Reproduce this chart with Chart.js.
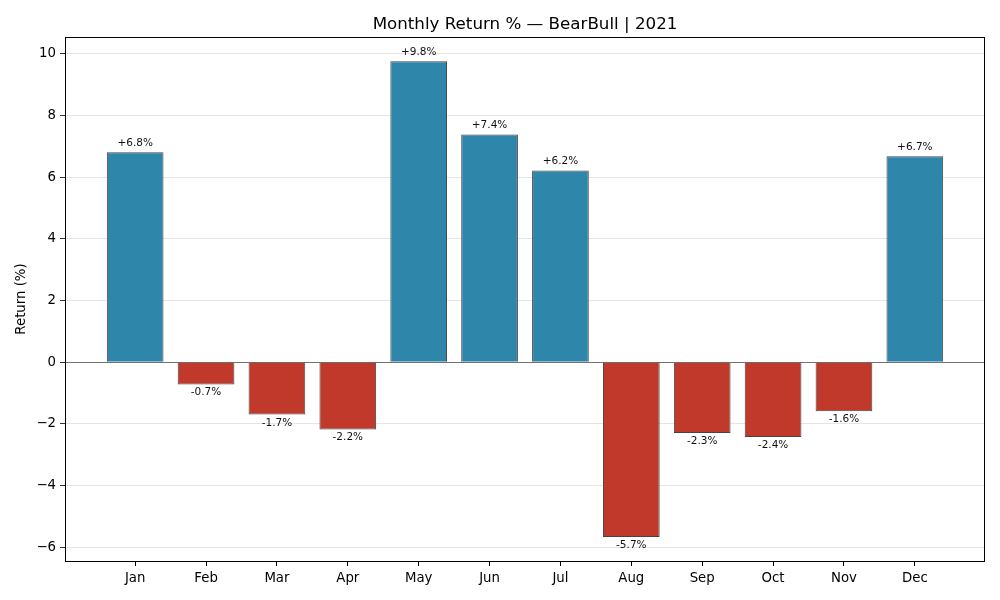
<!DOCTYPE html>
<html>
<head>
<meta charset="utf-8">
<title>Monthly Return % — BearBull | 2021</title>
<script src="https://cdn.jsdelivr.net/npm/chart.js@4.4.1/dist/chart.umd.min.js"></script>
<style>
    html, body { margin: 0; padding: 0; background: #fff; }
    #wrap { width: 1000px; height: 600px; position: relative; }
</style>
</head>
<body>
<div id="wrap"><canvas id="returnsChart" width="1000" height="600"></canvas></div>
<script>
(function () {
    'use strict';

    // Monthly data
    var months  = ['Jan', 'Feb', 'Mar', 'Apr', 'May', 'Jun', 'Jul', 'Aug', 'Sep', 'Oct', 'Nov', 'Dec'];
    var returns = [6.81, -0.72, -1.70, -2.18, 9.76, 7.39, 6.22, -5.67, -2.30, -2.43, -1.59, 6.68];
    var yTicks  = [-6, -4, -2, 0, 2, 4, 6, 8, 10];

    var titleText  = 'Monthly Return % \u2014 BearBull | 2021';
    var yLabelText = 'Return (%)';

    var posColour  = '#2E86AB';
    var negColour  = '#C0392B';
    var edgeColour = '#444';
    var gridColour = 'rgba(200,200,200,0.6)';
    var font       = 'DejaVu Sans';

    var points = months.map(function (m, i) { return { x: i, y: returns[i] }; });

    // Frame, zero line, value labels, title and y label
    var extras = {
        id: 'extras',
        afterDatasetsDraw: function (chart) {
            var ctx  = chart.ctx;
            var area = chart.chartArea;
            var ys   = chart.scales.y;

            ctx.save();
            // zero line
            ctx.strokeStyle = '#555';
            ctx.lineWidth = 0.8;
            ctx.beginPath();
            ctx.moveTo(area.left, Math.round(ys.getPixelForValue(0)) + 0.5);
            ctx.lineTo(area.right, Math.round(ys.getPixelForValue(0)) + 0.5);
            ctx.stroke();

            // value labels
            ctx.fillStyle = '#111';
            ctx.font = '10.5px "' + font + '"';
            ctx.textAlign = 'center';
            chart.getDatasetMeta(0).data.forEach(function (bar, i) {
                var v = returns[i];
                var txt = (v >= 0 ? '+' : '-') + Math.abs(v).toFixed(1) + '%';
                if (v >= 0) {
                    ctx.textBaseline = 'bottom';
                    ctx.fillText(txt, bar.x, bar.y - 4);
                } else {
                    ctx.textBaseline = 'top';
                    ctx.fillText(txt, bar.x, bar.y + 3);
                }
            });
            ctx.restore();
        },
        afterDraw: function (chart) {
            var ctx  = chart.ctx;
            var area = chart.chartArea;
            ctx.save();
            // axes box
            ctx.strokeStyle = '#000';
            ctx.lineWidth = 1;
            ctx.strokeRect(Math.round(area.left) + 0.5, Math.round(area.top) + 0.5,
                Math.round(area.right - area.left) - 1, Math.round(area.bottom - area.top));

            // title
            ctx.fillStyle = '#000';
            ctx.font = '16.7px "' + font + '"';
            ctx.textAlign = 'center';
            ctx.textBaseline = 'bottom';
            ctx.fillText(titleText, (area.left + area.right) / 2, area.top - 4);

            // y label
            ctx.font = '13.3px "' + font + '"';
            ctx.translate(22, (area.top + area.bottom) / 2);
            ctx.rotate(-Math.PI / 2);
            ctx.textBaseline = 'middle';
            ctx.fillText(yLabelText, 0, 0);
            ctx.restore();
        }
    };

    new Chart(document.getElementById('returnsChart'), {
        type: 'bar',
        data: {
            datasets: [{
                data: points,
                backgroundColor: returns.map(function (v) { return v >= 0 ? posColour : negColour; }),
                borderColor: edgeColour,
                borderWidth: 1,
                categoryPercentage: 1,
                barPercentage: 0.8
            }]
        },
        options: {
            responsive: false,
            animation: false,
            layout: { padding: { left: 0, right: 15, top: 37, bottom: 0 } },
            plugins: {
                legend: { display: false },
                tooltip: { enabled: false },
                title: { display: false }
            },
            scales: {
                x: {
                    type: 'linear',
                    min: -0.99,
                    max: 11.99,
                    offset: false,
                    afterBuildTicks: function (scale) {
                        scale.ticks = months.map(function (m, i) { return { value: i }; });
                    },
                    afterFit: function (scale) { scale.height = 39; },
                    ticks: {
                        autoSkip: false,
                        maxRotation: 0,
                        padding: 5,
                        color: '#000',
                        font: { family: font, size: 13.3 },
                        callback: function (v) { return months[v]; }
                    },
                    grid: {
                        offset: false,
                        drawOnChartArea: false,
                        tickLength: 5,
                        tickColor: '#000'
                    },
                    border: { display: false }
                },
                y: {
                    min: -6.45,
                    max: 10.55,
                    z: 1,
                    afterBuildTicks: function (scale) {
                        scale.ticks = yTicks.map(function (v) { return { value: v }; });
                    },
                    afterFit: function (scale) { scale.width = 65; },
                    ticks: {
                        padding: 4,
                        color: '#000',
                        font: { family: font, size: 13.3 },
                        callback: function (v) { return v < 0 ? '\u2212' + Math.abs(v) : String(v); }
                    },
                    grid: {
                        color: gridColour,
                        lineWidth: 0.8,
                        tickLength: 5,
                        tickColor: '#000'
                    },
                    border: { display: false }
                }
            }
        },
        plugins: [extras]
    });
})();
</script>
</body>
</html>
